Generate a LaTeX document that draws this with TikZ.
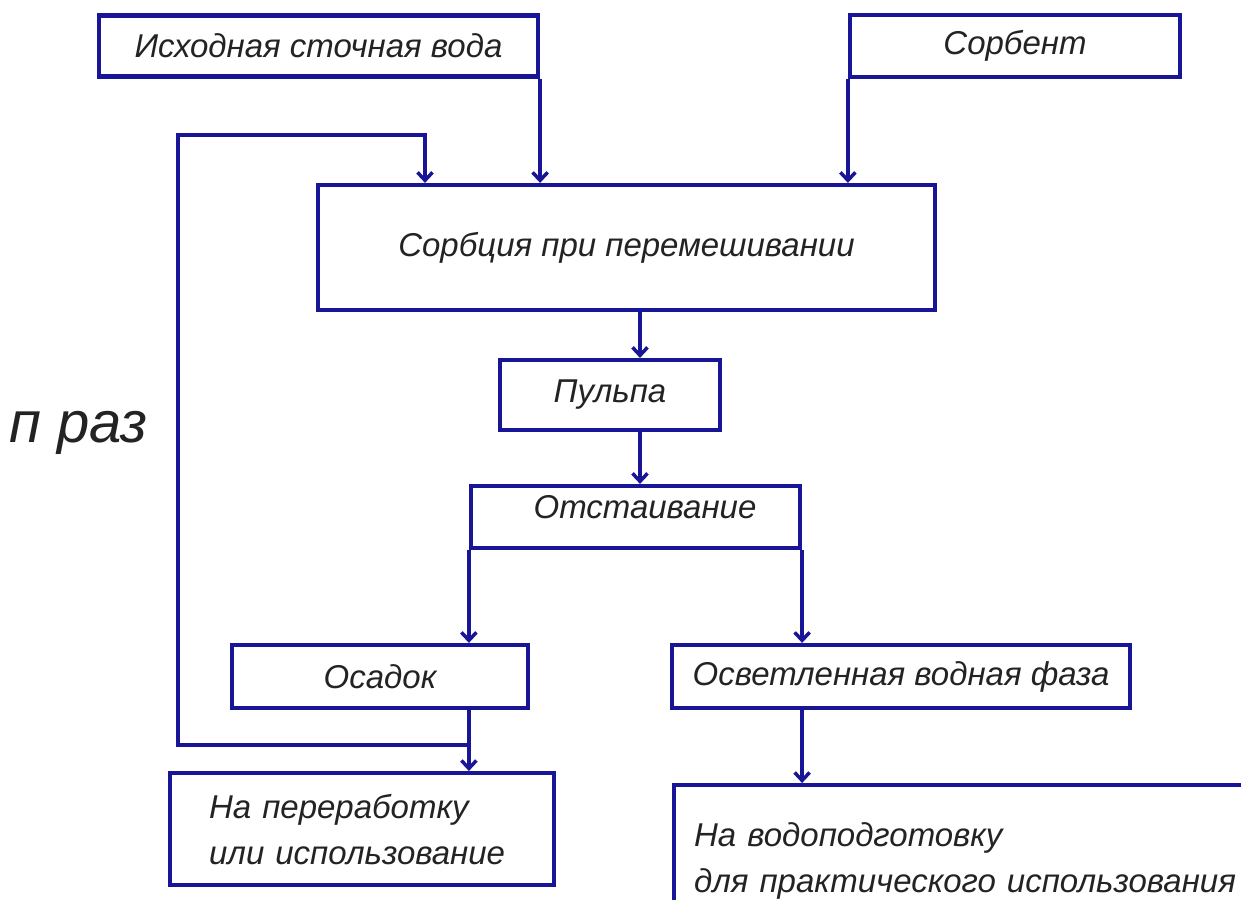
\documentclass[tikz,border=0pt]{standalone}
\usepackage{fontspec}
\setmainfont{Liberation Sans}
\usetikzlibrary{arrows.meta}
\definecolor{lineblue}{RGB}{24,22,150}
\definecolor{txt}{RGB}{35,35,35}
\tikzset{
  box/.style={draw=lineblue, line width=4.2pt, rectangle, inner sep=0pt, text=txt,
    font=\fontsize{33}{46}\selectfont\itshape},
  conn/.style={draw=lineblue, line width=4.2pt},
  arr/.style={conn, -{Straight Barb[length=8pt,width=15pt,line width=3.5pt]}},
}
\begin{document}
\begin{tikzpicture}[x=1pt,y=-1pt]
\fill[white] (0,0) rectangle (1241,899);
\useasboundingbox (0,0) rectangle (1241,899);
\begin{scope}
\clip (0,0) rectangle (1241,899);
% boxes
\node[box, minimum width=439pt, minimum height=61pt] (isx) at (318.5,46) {Исходная сточная вода};
\node[box, minimum width=330pt, minimum height=62pt] (sorbent) at (1015,46) {Сорбент};
\node[box, minimum width=617pt, minimum height=125pt] (sorb) at (626.5,247.5) {Сорбция при перемешивании};
\node[box, minimum width=220pt, minimum height=70pt] (pulpa) at (610,395) {Пульпа};
\node[box, minimum width=329pt, minimum height=62pt] (otst) at (635.5,517) {};
\node[text=txt, font=\fontsize{33}{46}\selectfont\itshape] (otsttxt) at (645,507) {Отстаивание};
\node[box, minimum width=296pt, minimum height=63pt] (osadok) at (380,676.5) {Осадок};
\node[box, minimum width=458pt, minimum height=63pt] (osv) at (901,676.5) {Осветленная водная фаза};
\node[box, minimum width=384pt, minimum height=112pt, anchor=north west, text width=306pt,
  inner xsep=38pt, inner ysep=9pt, align=left] (perer) at (168,771) {На переработку\\или использование};
\node[box, minimum width=640pt, minimum height=150pt, anchor=north west, text width=600pt,
  inner xsep=16pt, inner ysep=37pt, align=left] (vodo) at (672,783) {На водоподготовку\\для практического использования};
\node[text=txt, font=\fontsize{58}{64}\selectfont\itshape, anchor=west] (nraz) at (6,433) {п раз};
% coordinates
\coordinate (loopA) at (178,745);
\coordinate (loopB) at (178,135);
\coordinate (loopC) at (425,135);
\coordinate (mid) at (640,0);
% connectors
\draw[arr] (isx.south east) -- (isx.south east |- sorb.north);
\draw[arr] (sorbent.south west) -- (sorbent.south west |- sorb.north);
\draw[arr] (mid |- sorb.south) -- (mid |- pulpa.north);
\draw[arr] (mid |- pulpa.south) -- (mid |- otst.north);
\draw[arr] (otst.south west) -- (otst.south west |- osadok.north);
\draw[arr] (otst.south east) -- (otst.south east |- osv.north);
\draw[arr] (otst.south west |- osadok.south) -- (otst.south west |- perer.north);
\draw[arr] (otst.south east |- osv.south) -- (otst.south east |- vodo.north);
\draw[arr] (otst.south west |- loopA) -- (loopA) -- (loopB) -- (loopC) -- (loopC |- sorb.north);
\end{scope}
\end{tikzpicture}
\end{document}
